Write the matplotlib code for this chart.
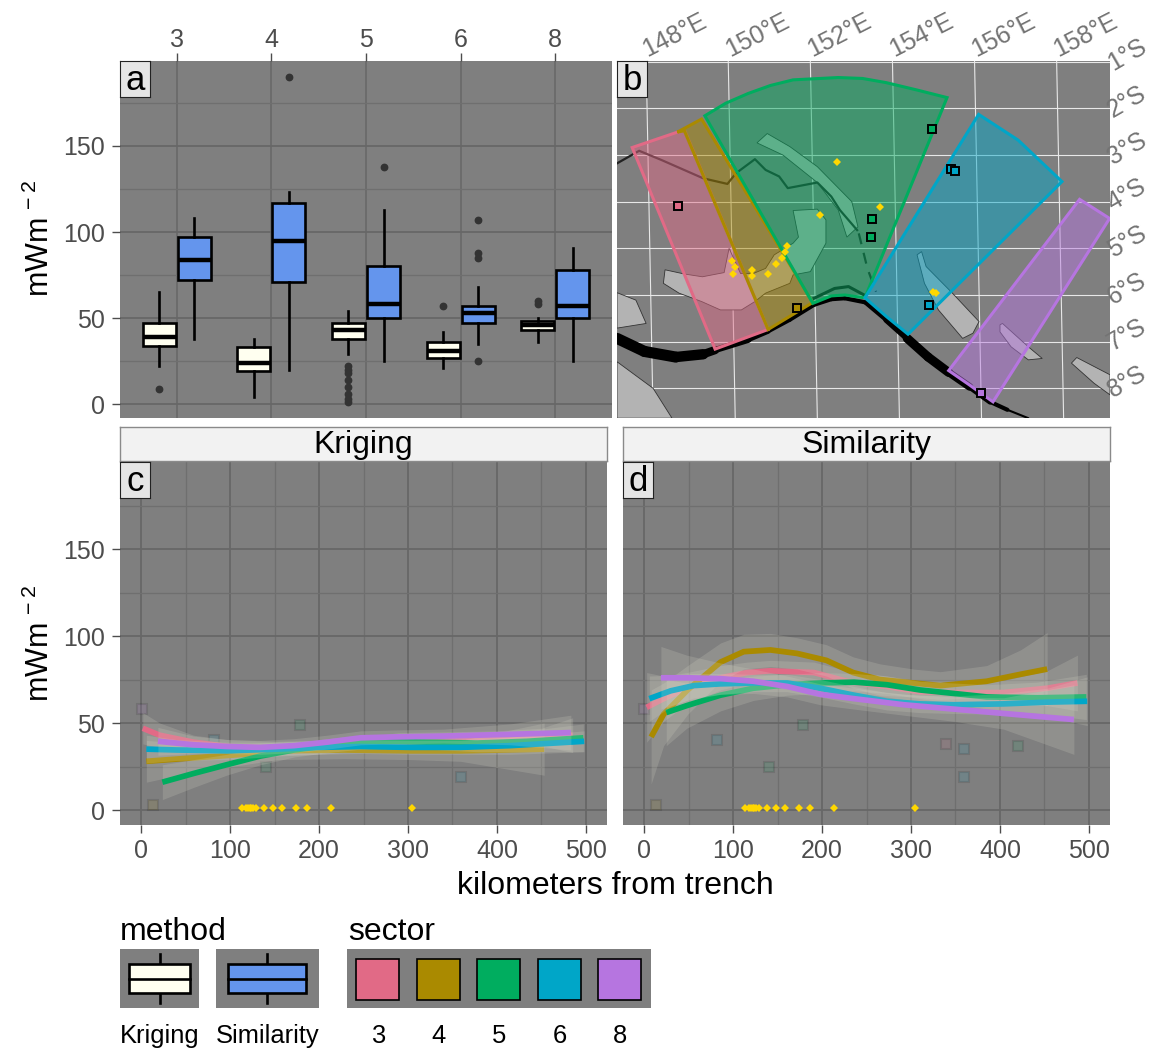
import matplotlib
matplotlib.use('Agg')
import matplotlib.pyplot as plt
from matplotlib.patches import Polygon, Rectangle

plt.rcParams['font.family'] = ['Liberation Sans', 'DejaVu Sans']
plt.rcParams['mathtext.fontset'] = 'custom'
plt.rcParams['mathtext.rm'] = 'Liberation Sans'
plt.rcParams['axes.axisbelow'] = True

W, H = 1152, 1048
BG = '#7f7f7f'
GRID = '#676767'
MINOR = '#6f6f6f'
TICK = '#4d4d4d'
GOLD = '#FFD700'

sectors = ['3', '4', '5', '6', '8']
sector_colors = ['#E16A86', '#AA8A00', '#00AD5F', '#00A6C8', '#B675E0']
method_colors = ['#FFFFF0', '#6495ED']
methods = ['Kriging', 'Similarity']

# panel a: whislo, q1, median, q3, whishi, fliers
kriging_stats = [
    (22, 34, 39, 47, 65, [9]),
    (4, 19, 24, 33, 38, []),
    (29, 38, 43, 47, 54, [1, 3, 6, 10, 14, 18, 20, 22]),
    (21, 27, 31, 36, 42, [57]),
    (36, 43, 46, 48, 50, [58, 60]),
]
similarity_stats = [
    (38, 72, 84, 97, 108, []),
    (20, 71, 95, 117, 123, [190]),
    (25, 50, 58, 80, 113, [138]),
    (35, 47, 53, 57, 68, [25, 85, 88, 107]),
    (25, 50, 57, 78, 91, []),
]

# panel b: map outlines as lon, lat
sector3_poly = [(147.66, -2.84), (148.93, -2.46), (150.97, -6.74), (149.68, -7.16)]
sector4_poly = [(148.76, -2.51), (149.35, -2.23), (152.06, -6.16), (150.97, -6.74), (148.93, -2.48)]
sector5_poly = [(149.43, -2.16), (149.94, -1.89), (150.49, -1.68), (151.03, -1.51), (151.58, -1.39),
                (152.68, -1.34), (153.27, -1.36), (153.85, -1.45), (154.61, -1.61), (155.33, -1.77),
                (153.33, -6.06), (152.84, -6.00), (152.51, -6.02), (152.06, -6.18)]
sector6_poly = [(153.33, -6.06), (156.10, -2.13), (157.06, -2.68), (158.13, -3.57), (154.38, -6.84),
                (153.85, -6.46)]
sector8_poly = [(155.37, -7.62), (158.56, -3.95), (159.29, -4.36), (156.45, -8.29), (155.88, -7.93)]
sector_polys = [sector3_poly, sector4_poly, sector5_poly, sector6_poly, sector8_poly]

land_new_britain = [(148.42, -5.75), (148.46, -5.46), (148.93, -5.55), (149.37, -5.61), (149.90, -5.52),
                    (150.02, -5.0), (150.30, -5.54), (150.61, -5.54), (150.91, -5.43), (151.12, -5.14),
                    (151.58, -4.89), (151.71, -4.76), (151.58, -4.19), (152.17, -4.16), (152.38, -4.39),
                    (152.38, -4.89), (152.00, -5.50), (151.58, -5.57), (151.50, -5.75), (150.91, -5.96),
                    (150.65, -6.14), (150.32, -6.32), (149.81, -6.32), (149.35, -6.14), (148.80, -5.96)]
land_new_ireland = [(150.70, -2.74), (150.95, -2.54), (151.50, -2.82), (152.17, -3.25), (153.01, -4.00),
                    (153.16, -4.54), (152.89, -4.76), (152.68, -4.18), (152.17, -3.59), (151.33, -3.0)]
land_bougainville = [(154.60, -5.14), (154.71, -5.07), (154.82, -5.39), (155.46, -5.96), (156.11, -6.57),
                     (155.96, -6.82), (155.71, -6.93), (155.12, -6.32), (154.78, -5.75)]
land_choiseul = [(156.62, -6.64), (156.68, -6.61), (157.31, -7.11), (157.65, -7.36), (157.31, -7.39),
                 (156.89, -7.11), (156.62, -6.79)]
land_isabel = [(158.36, -7.46), (158.49, -7.34), (159.30, -7.71), (159.30, -8.14), (158.91, -7.89)]
land_png = [(147.29, -7.43), (148.17, -8.0), (148.63, -8.64), (147.29, -8.64)]
land_small = [(147.29, -5.95), (147.75, -6.11), (148.0, -6.61), (147.29, -6.71)]
lands = [land_new_britain, land_new_ireland, land_bougainville, land_choiseul, land_isabel, land_png, land_small]

trench_lon = [147.29, 147.96, 148.72, 149.39, 149.68, 150.49, 150.97, 151.50, 152.09, 152.51, 152.84,
              153.35, 153.85, 154.36, 154.87, 155.37, 155.88, 156.38, 156.80, 157.31]
trench_lat = [-6.93, -7.21, -7.33, -7.27, -7.18, -6.96, -6.78, -6.53, -6.21, -6.09, -6.07,
              -6.16, -6.53, -6.93, -7.33, -7.66, -7.97, -8.29, -8.46, -8.64]
trench_lw = [8, 8, 7.5, 6, 4.5, 3.5, 3, 3, 3, 3, 3, 3.5, 4.5, 6.5, 6.5, 5.5, 4, 3, 1.5, 1.5]

ridge_lon = [147.29, 147.83, 148.38, 149.39, 149.98, 150.19, 150.65, 150.91, 151.24, 151.45, 152.17,
             152.51, 152.72, 153.14]
ridge_lat = [-3.18, -2.91, -3.11, -3.50, -3.62, -3.39, -3.09, -3.32, -3.46, -3.71, -3.59, -3.89, -4.18, -4.61]
dash_lon = [153.18, 153.39, 153.60]
dash_lat = [-4.68, -5.43, -5.93]
arc_lon = [152.09, 152.59, 152.93, 153.31]
arc_lat = [-6.07, -5.86, -5.82, -6.00]

probe_lon = [152.66, 153.69, 152.24, 151.44, 151.39, 151.30, 151.16, 150.97, 150.57, 150.59, 150.11,
             150.17, 150.08, 155.0, 155.07]
probe_lat = [-3.14, -4.11, -4.29, -4.94, -5.07, -5.21, -5.34, -5.54, -5.47, -5.59, -5.56, -5.39, -5.27,
             -5.94, -5.96]

site_lon = [148.77, 151.67, 154.96, 153.51, 153.48, 155.42, 155.52, 154.89, 156.15]
site_lat = [-4.09, -6.28, -2.44, -4.38, -4.75, -3.29, -3.35, -6.21, -8.11]
site_sector = [0, 1, 2, 2, 2, 3, 3, 3, 4]

lon_ticks = [148, 150, 152, 154, 156, 158]
lat_ticks = [1, 2, 3, 4, 5, 6, 7, 8]

# panels c, d: smooth fits, x / y / half width of ribbon, by sector
krig_x = [
    [2, 21, 59, 97, 150, 200, 250, 290, 350, 400, 450, 485],
    [6, 59, 115, 153, 228, 303, 359, 453],
    [24, 59, 96, 134, 172, 209, 247, 284, 322, 378, 434, 497],
    [6, 40, 97, 153, 198, 247, 303, 359, 415, 498],
    [19, 59, 97, 134, 172, 209, 247, 284, 340, 415, 483],
]
krig_y = [
    [47, 43, 39, 36.5, 35.5, 36, 38, 40.5, 41, 41.5, 42, 43],
    [28, 30, 32, 34, 34.5, 34, 34, 35],
    [16, 21, 26, 31, 34.5, 37, 39, 39.5, 39, 38.5, 39.5, 41.5],
    [35, 34.5, 34, 35, 36, 36.5, 36, 36, 37, 39.5],
    [39.5, 37.5, 36.5, 36, 37, 39, 41.5, 42, 42.5, 43.5, 44.5],
]
krig_se = [
    [9, 7, 4, 4, 4, 4, 4, 4, 4, 4, 5, 10],
    [12, 8, 6, 5, 5, 5, 6, 15],
    [10, 8, 6, 5, 4, 4, 4, 4, 4, 5, 6, 8],
    [8, 6, 5, 4, 4, 4, 4, 4, 5, 6],
    [8, 5, 4, 4, 4, 4, 4, 4, 4, 6, 10],
]
sim_x = [
    [3, 22, 48, 86, 116, 142, 191, 228, 273, 310, 348, 404, 453, 487],
    [8, 22, 49, 86, 112, 142, 172, 205, 235, 265, 303, 333, 385, 423, 453],
    [25, 48, 86, 123, 161, 198, 236, 273, 310, 348, 385, 442, 497],
    [6, 30, 56, 86, 123, 161, 198, 236, 273, 310, 348, 404, 453, 498],
    [19, 48, 86, 123, 161, 198, 236, 292, 348, 404, 483],
]
sim_y = [
    [59, 64, 70, 76, 79, 80, 79, 74, 71, 68, 67.5, 67.5, 70, 73],
    [42, 55, 69, 85, 91, 92, 90, 86, 79, 75, 73, 71.5, 74, 78, 81],
    [56, 60, 66, 70, 72, 73, 73.5, 72, 69, 67, 65, 64.5, 65],
    [64, 68.5, 71.5, 72.5, 73, 73, 70, 66, 62.5, 61, 60.5, 61, 62, 62.5],
    [76, 76, 75.5, 74, 71, 66.5, 64, 60.5, 58, 55.5, 52],
]
sim_se = [
    [20, 13, 9, 7, 6, 6, 6, 6, 6, 6, 6, 7, 10, 16],
    [27, 18, 14, 11, 10, 9.5, 9, 9, 9, 9, 8, 8, 9, 14, 21],
    [19, 13, 9, 7, 6, 6, 5, 5, 5, 6, 7, 9, 13],
    [13, 9, 7, 6, 5, 5, 5, 5, 5, 5, 5, 6, 8, 14],
    [18, 13, 9, 7, 6, 6, 6, 6, 7, 9, 20],
]

# measured sites in c and d
krig_site_x = [1, 82, 179, 140, 13, 359]
krig_site_y = [58, 40, 49, 25, 3, 19]
krig_site_sector = [4, 3, 2, 2, 1, 3]
sim_site_x = [0, 13, 82, 179, 140, 339, 360, 359, 420]
sim_site_y = [58, 3, 40, 49, 25, 38, 35, 19, 37]
sim_site_sector = [4, 1, 3, 2, 2, 0, 3, 3, 2]

probe_dist = [114, 118, 120, 122, 124, 126, 129, 138, 148, 158, 174, 187, 213, 305]
probe_flux = [1] * len(probe_dist)

fig = plt.figure(figsize=(W / 100, H / 100), dpi=100, facecolor='white')


def px_axes(x0, y0, x1, y1):
    return fig.add_axes([x0 / W, 1 - y1 / H, (x1 - x0) / W, (y1 - y0) / H])


def px_text(x, y, s, **kw):
    return fig.text(x / W, 1 - y / H, s, **kw)


def style_panel(ax):
    ax.set_facecolor(BG)
    for s in ax.spines.values():
        s.set_visible(False)
    ax.tick_params(which='major', length=5.8, width=1.0, color=TICK, labelcolor=TICK, labelsize=18, pad=5)
    ax.tick_params(which='minor', length=0)


def panel_letter(x, y, s):
    la = px_axes(x, y, x + 30, y + 36)
    la.set_facecolor('#e5e5e5')
    la.set_xticks([])
    la.set_yticks([])
    for sp in la.spines.values():
        sp.set_linewidth(0.8)
        sp.set_color('#222222')
    la.text(0.5, 0.46, s, ha='center', va='center', fontsize=25, color='black', transform=la.transAxes)


def mwm_label(x, y):
    px_text(x, y, r'$\mathrm{mWm}^{\,-2}$', rotation=90, ha='center', va='center', fontsize=22, color='black')


# panel a
ax_a = px_axes(120, 61, 612, 418)
style_panel(ax_a)
ax_a.set_xlim(0.4, 5.6)
ax_a.set_ylim(-8.1, 199.4)
for offset, stats, color in [(-0.185, kriging_stats, method_colors[0]), (0.185, similarity_stats, method_colors[1])]:
    items = [dict(whislo=s[0], q1=s[1], med=s[2], q3=s[3], whishi=s[4], fliers=s[5]) for s in stats]
    ax_a.bxp(items, positions=[i + 1 + offset for i in range(5)], widths=0.35, patch_artist=True,
             showcaps=False, manage_ticks=False,
             boxprops=dict(facecolor=color, edgecolor='black', linewidth=1.9),
             whiskerprops=dict(color='black', linewidth=1.9),
             medianprops=dict(color='black', linewidth=3.2, solid_capstyle='butt'),
             flierprops=dict(marker='o', markerfacecolor='#333333', markeredgecolor='#333333', markersize=4.6))
ax_a.set_xticks(range(1, 6))
ax_a.set_xticklabels(sectors)
ax_a.xaxis.tick_top()
ax_a.tick_params(axis='x', pad=1)
ax_a.set_yticks([0, 50, 100, 150])
ax_a.set_yticks([25, 75, 125, 175], minor=True)
ax_a.grid(True, axis='x', color=GRID, linewidth=1.1)
ax_a.grid(True, axis='y', which='major', color=GRID, linewidth=1.3)
ax_a.grid(True, axis='y', which='minor', color=MINOR, linewidth=0.9)
panel_letter(120, 61, 'a')
mwm_label(40, 238)

# panel b
ax_b = px_axes(617, 61, 1110, 418)
style_panel(ax_b)
ax_b.set_xlim(147.29, 159.30)
ax_b.set_ylim(-8.636, -0.986)
ax_b.set_xticks([])
ax_b.set_yticks([])
for lon in lon_ticks:
    ax_b.plot([lon, lon + 0.17], [-0.986, -8.636], color='#e8e8e8', lw=0.8, zorder=1)
    ax_b.annotate(f'{lon}°E', xy=(lon, -0.986), xytext=(1, 3), textcoords='offset points', rotation=27,
                  rotation_mode='anchor', ha='left', va='baseline', fontsize=18, color='#737373',
                  annotation_clip=False)
for lat in lat_ticks:
    ax_b.plot([147.29, 159.30], [-lat, -lat], color='#e8e8e8', lw=0.8, zorder=1)
    ax_b.annotate(f'{lat}°S', xy=(159.30, -lat), xytext=(2, -7), textcoords='offset points', rotation=30,
                  rotation_mode='anchor', ha='left', va='baseline', fontsize=18, color='#737373',
                  annotation_clip=False)
for land in lands:
    ax_b.add_patch(Polygon(land, closed=True, facecolor='#b3b3b3', edgecolor='#333333', lw=0.6, zorder=2))
for i in range(len(trench_lon) - 1):
    ax_b.plot(trench_lon[i:i + 2], trench_lat[i:i + 2], color='black', lw=trench_lw[i], zorder=3,
              solid_capstyle='round')
ax_b.plot(ridge_lon, ridge_lat, color='#222222', lw=1.6, zorder=3)
ax_b.plot(dash_lon, dash_lat, color='#222222', lw=1.6, dashes=(5, 4), zorder=3)
ax_b.plot(arc_lon, arc_lat, color='#111111', lw=2.2, zorder=3)
for poly, color in zip(sector_polys, sector_colors):
    ax_b.add_patch(Polygon(poly, closed=True, facecolor=color, alpha=0.48, edgecolor='none', zorder=4))
    ax_b.add_patch(Polygon(poly, closed=True, facecolor='none', edgecolor=color, lw=2.2, zorder=4))
ax_b.plot(probe_lon, probe_lat, linestyle='none', marker='D', color=GOLD, markersize=3.6, mew=0, zorder=5)
for lon, lat, k in zip(site_lon, site_lat, site_sector):
    ax_b.plot(lon, lat, marker='s', markersize=6.4, markerfacecolor=sector_colors[k],
              markeredgecolor='black', mew=1.4, zorder=6)
panel_letter(617, 61, 'b')


# panels c and d
def smooth_panel(x0, x1, title, letter, xs, ys, ses, site_x, site_y, site_sector):
    ax = px_axes(x0, 462, x1, 825)
    style_panel(ax)
    ax.set_xlim(-23.6, 523.6)
    ax.set_ylim(-8.6, 200)
    ax.set_xticks([0, 100, 200, 300, 400, 500])
    ax.set_xticks([50, 150, 250, 350, 450], minor=True)
    ax.set_yticks([0, 50, 100, 150])
    ax.set_yticks([25, 75, 125, 175], minor=True)
    ax.tick_params(axis='x', which='major', pad=4.5)
    ax.grid(True, which='major', color=GRID, linewidth=1.3)
    ax.grid(True, which='minor', color=MINOR, linewidth=0.9)
    for sx, sy, k in zip(site_x, site_y, site_sector):
        ax.plot(sx, sy, marker='s', markersize=7, markerfacecolor=sector_colors[k],
                markeredgecolor='black', mew=1.5, alpha=0.11, zorder=2)
    for x, y, se, color in zip(xs, ys, ses, sector_colors):
        low = [a - b for a, b in zip(y, se)]
        high = [a + b for a, b in zip(y, se)]
        ax.fill_between(x, low, high, color='#d8d8c8', alpha=0.2, lw=0, zorder=3)
        ax.plot(x, y, color=color, lw=4.1, zorder=3, solid_capstyle='butt', solid_joinstyle='round')
    ax.plot(probe_dist, probe_flux, linestyle='none', marker='D', color=GOLD, markersize=3.6, mew=0, zorder=4)
    strip = px_axes(x0, 427, x1, 461)
    strip.set_facecolor('#f2f2f2')
    strip.set_xticks([])
    strip.set_yticks([])
    for sp in strip.spines.values():
        sp.set_linewidth(1.0)
        sp.set_color('#8a8a8a')
    strip.text(0.5, 0.48, title, ha='center', va='center', fontsize=23, color='black', transform=strip.transAxes)
    panel_letter(x0, 462, letter)
    return ax


ax_c = smooth_panel(120, 607, 'Kriging', 'c', krig_x, krig_y, krig_se, krig_site_x, krig_site_y, krig_site_sector)
ax_d = smooth_panel(623, 1110, 'Similarity', 'd', sim_x, sim_y, sim_se, sim_site_x, sim_site_y, sim_site_sector)
ax_d.tick_params(axis='y', which='major', length=0, labelleft=False)
mwm_label(40, 643)
px_text(615, 886, 'kilometers from trench', ha='center', va='center', fontsize=23, color='black')

# legend
px_text(120, 932, 'method', ha='left', va='center', fontsize=23, color='black')
px_text(348, 932, 'sector', ha='left', va='center', fontsize=23, color='black')
leg = px_axes(0, 0, W, H)
leg.set_xlim(0, W)
leg.set_ylim(H, 0)
leg.axis('off')
leg.patch.set_alpha(0)
for (bx0, bx1, kx0, kx1), color, name in zip([(120, 199, 129, 190), (216, 319, 228, 306)], method_colors, methods):
    leg.add_patch(Rectangle((bx0, 949), bx1 - bx0, 59, facecolor=BG, edgecolor='none'))
    cx = (kx0 + kx1) / 2
    leg.plot([cx, cx], [954, 1003], color='black', lw=1.9)
    leg.add_patch(Rectangle((kx0, 964), kx1 - kx0, 29, facecolor=color, edgecolor='black', lw=1.9, zorder=3))
    leg.plot([kx0, kx1], [978.5, 978.5], color='black', lw=1.9, zorder=4)
    leg.text(bx0, 1036, name, ha='left', va='center', fontsize=18.4, color='black')
leg.add_patch(Rectangle((347, 949), 304, 59, facecolor=BG, edgecolor='none'))
for i, (name, color) in enumerate(zip(sectors, sector_colors)):
    left = 356 + i * 60.6
    leg.add_patch(Rectangle((left, 959), 43, 41, facecolor=color, edgecolor='black', lw=1.2, zorder=3))
    leg.text(left + 22, 1036, name, ha='center', va='center', fontsize=18.4, color='black')

fig.savefig('out.png', dpi=100)
